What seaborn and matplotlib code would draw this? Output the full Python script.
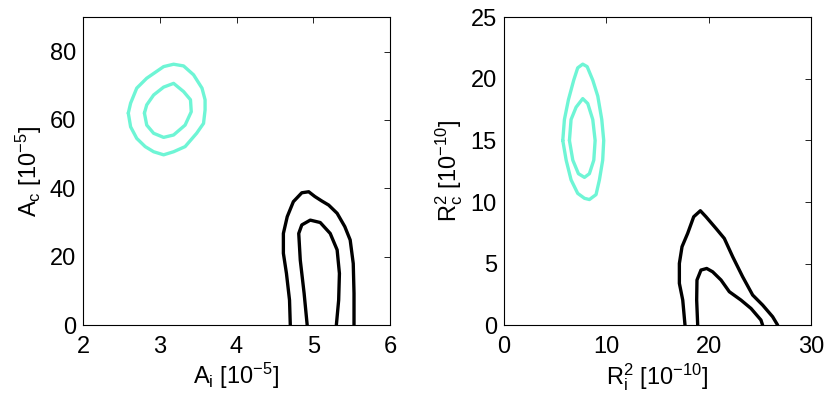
import numpy as np
import pandas as pd
import matplotlib
matplotlib.use("Agg")
import matplotlib.pyplot as plt
import seaborn as sns

# contour outlines (x, y in axis units)
# left panel: A_i vs A_c [1e-5]
a_cyan_outer_x = [2.59, 2.62, 2.70, 2.83, 3.05, 3.18, 3.31, 3.44, 3.55, 3.59, 3.59, 3.57, 3.48, 3.33, 3.18, 3.05, 2.92, 2.81, 2.70, 2.62, 2.59]
a_cyan_outer_y = [62.0, 64.9, 69.3, 72.2, 75.6, 76.3, 75.8, 73.2, 69.3, 65.9, 62.9, 59.0, 56.1, 52.2, 50.7, 49.8, 50.7, 52.2, 54.6, 58.0, 62.0]
a_cyan_inner_x = [2.80, 2.83, 2.92, 3.05, 3.18, 3.31, 3.40, 3.41, 3.33, 3.18, 3.05, 2.92, 2.83, 2.80]
a_cyan_inner_y = [62.0, 64.4, 67.3, 69.6, 70.7, 68.3, 65.9, 62.4, 58.5, 55.6, 54.9, 56.1, 58.5, 62.0]
a_black_outer_x = [4.70, 4.69, 4.65, 4.61, 4.61, 4.66, 4.74, 4.85, 4.94, 5.02, 5.11, 5.20, 5.31, 5.41, 5.48, 5.52, 5.53, 5.53]
a_black_outer_y = [0.0, 7.3, 15.1, 21.0, 26.8, 31.7, 36.1, 38.7, 39.0, 37.6, 36.3, 35.1, 32.7, 28.8, 24.9, 18.0, 9.3, 0.0]
a_black_inner_x = [4.92, 4.88, 4.83, 4.81, 4.85, 4.96, 5.09, 5.22, 5.31, 5.34, 5.33, 5.30]
a_black_inner_y = [0.0, 9.3, 19.0, 26.8, 29.3, 30.7, 30.0, 26.8, 22.0, 15.1, 7.3, 0.0]

# right panel: R_i^2 vs R_c^2 [1e-10]
r_cyan_outer_x = [5.76, 5.92, 6.31, 6.83, 7.22, 7.71, 8.14, 8.69, 9.18, 9.57, 9.76, 9.66, 9.34, 9.01, 8.36, 7.88, 7.22, 6.57, 6.09, 5.76]
r_cyan_outer_y = [15.0, 16.7, 18.3, 19.9, 20.9, 21.2, 21.0, 19.9, 18.6, 16.7, 15.0, 13.4, 11.8, 10.6, 10.2, 10.3, 10.7, 11.8, 13.4, 15.0]
r_cyan_inner_x = [6.41, 6.57, 7.06, 7.71, 8.20, 8.69, 8.92, 8.79, 8.36, 7.88, 7.29, 6.74, 6.41]
r_cyan_inner_y = [15.0, 16.7, 17.7, 18.4, 18.0, 16.7, 15.0, 13.4, 12.3, 12.0, 12.3, 13.4, 15.0]
r_black_outer_x = [17.70, 17.48, 17.15, 17.15, 17.41, 17.96, 18.55, 19.20, 19.75, 20.73, 21.54, 22.36, 23.33, 24.31, 25.28, 26.26, 26.75]
r_black_outer_y = [0.0, 2.03, 3.39, 5.01, 6.37, 7.45, 8.80, 9.29, 8.80, 7.85, 7.04, 5.55, 3.93, 2.44, 1.63, 0.68, 0.0]
r_black_inner_x = [18.94, 18.84, 18.87, 19.26, 19.82, 20.40, 21.22, 22.03, 23.17, 24.15, 25.12, 25.28]
r_black_inner_y = [0.0, 2.03, 3.66, 4.47, 4.60, 4.33, 3.66, 2.71, 2.03, 1.35, 0.41, 0.0]

cyan = "#6ef5d5"
black = "black"

sns.set_style("white")
plt.rcParams["font.family"] = ["Liberation Sans", "DejaVu Sans"]
plt.rcParams["mathtext.default"] = "regular"
plt.rcParams["text.color"] = "black"
plt.rcParams["axes.labelcolor"] = "black"
plt.rcParams["xtick.color"] = "black"
plt.rcParams["ytick.color"] = "black"

fig = plt.figure(figsize=(8.3, 3.95), dpi=100)
ax1 = fig.add_axes([0.100, 0.177, 0.370, 0.779])
ax2 = fig.add_axes([0.607, 0.177, 0.370, 0.779])


def draw(ax, x, y, col):
    df = pd.DataFrame({"x": x, "y": y})
    sns.lineplot(data=df, x="x", y="y", sort=False, estimator=None,
                 color=col, linewidth=2.4, ax=ax)


draw(ax1, a_cyan_outer_x, a_cyan_outer_y, cyan)
draw(ax1, a_cyan_inner_x, a_cyan_inner_y, cyan)
draw(ax1, a_black_outer_x, a_black_outer_y, black)
draw(ax1, a_black_inner_x, a_black_inner_y, black)

draw(ax2, r_cyan_outer_x, r_cyan_outer_y, cyan)
draw(ax2, r_cyan_inner_x, r_cyan_inner_y, cyan)
draw(ax2, r_black_outer_x, r_black_outer_y, black)
draw(ax2, r_black_inner_x, r_black_inner_y, black)

ax1.set_xlim(2, 6)
ax1.set_ylim(0, 90)
ax1.set_xticks([2, 3, 4, 5, 6])
ax1.set_yticks([0, 20, 40, 60, 80])
ax1.set_xlabel(r"A$_{i}$ [10$^{-5}$]", fontsize=17, labelpad=2)
ax1.set_ylabel(r"A$_{c}$ [10$^{-5}$]", fontsize=17, labelpad=4)

ax2.set_xlim(0, 30)
ax2.set_ylim(0, 25)
ax2.set_xticks([0, 10, 20, 30])
ax2.set_yticks([0, 5, 10, 15, 20, 25])
ax2.set_xlabel(r"R$_{i}^{2}$ [10$^{-10}$]", fontsize=17, labelpad=2)
ax2.set_ylabel(r"R$_{c}^{2}$ [10$^{-10}$]", fontsize=17, labelpad=4)

for ax in (ax1, ax2):
    ax.tick_params(direction="in", length=4, width=0.6, labelsize=17,
                   top=True, right=True, pad=5)
    ax.tick_params(axis="x", pad=8)
    for s in ax.spines.values():
        s.set_linewidth(0.8)
        s.set_color("black")

fig.savefig("out.png", dpi=100)
